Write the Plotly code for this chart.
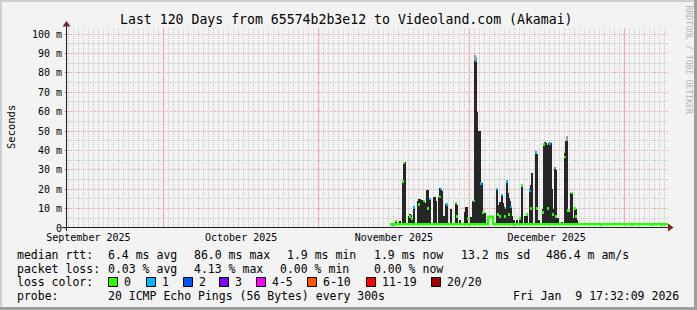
import plotly.graph_objects as go
import pandas as pd

# ---------------- data ----------------
T_START = "2025-09-11 17:32:09"
T_END = "2026-01-09 17:32:09"
DAY0 = pd.Timestamp("2025-11-01 00:00:00")   # day offsets below are counted from here
month_starts = ["2025-10-01", "2025-11-01", "2025-12-01", "2026-01-01"]

# smoke (max rtt, ms) of each spike column, days after 2025-11-01
spike_day = [15.42, 16.22, 16.82, 17.02, 17.22, 18.02, 18.22, 18.42, 18.62, 19.02,
             19.82, 20.02, 20.22, 20.42, 20.82, 21.02, 21.22, 21.62, 21.82, 22.02,
             22.22, 23.01, 23.21, 23.41, 24.01, 24.21, 24.41, 24.61, 25.01, 25.41,
             25.61, 26.41, 27.41, 27.61, 28.21, 29.20, 29.40, 29.60, 30.40, 30.80,
             31.00, 31.20, 31.40, 31.60, 31.80, 32.00, 32.20, 32.40, 32.60, 32.80,
             33.20, 35.59, 35.79, 36.19, 36.39, 36.59, 36.79, 36.99, 37.19, 37.59,
             37.79, 37.99, 38.19, 38.39, 38.59, 38.99, 39.59, 40.19, 40.59, 41.19,
             41.59, 42.19, 42.39, 42.59, 43.39, 43.59, 43.99, 44.79, 44.99, 45.19,
             45.39, 45.59, 45.79, 45.99, 46.18, 46.38, 46.58, 46.78, 47.18, 47.38,
             47.78, 48.58, 49.18, 49.38, 49.58, 49.78, 49.98, 50.38, 50.58, 50.78,
             51.18, 51.38, 51.58]
spike_max = [4.0, 3.5, 24.0, 34.0, 34.0, 6.0, 7.0, 6.5, 5.5, 10.5,
             14.0, 15.0, 15.0, 14.5, 14.4, 14.4, 13.0, 19.6, 19.6, 15.0,
             15.0, 15.8, 15.8, 14.0, 16.0, 20.4, 20.4, 19.0, 6.0, 12.4,
             12.4, 9.8, 13.0, 12.0, 4.0, 8.0, 11.0, 11.0, 5.5, 14.0,
             14.4, 86.0, 86.0, 60.0, 50.0, 50.0, 50.0, 23.0, 23.0, 8.0,
             7.7, 20.4, 12.0, 13.6, 12.0, 17.5, 13.0, 11.0, 10.0, 24.7,
             18.0, 15.3, 14.0, 10.8, 6.0, 4.0, 4.0, 5.0, 22.7, 6.0,
             7.0, 20.0, 22.0, 28.2, 39.3, 38.0, 4.0, 10.0, 43.6, 44.4,
             43.6, 43.0, 42.0, 43.6, 44.0, 43.6, 20.0, 10.0, 31.6, 30.0,
             5.0, 3.0, 38.5, 45.0, 45.0, 10.0, 8.0, 18.0, 18.7, 5.0,
             10.0, 10.0, 4.0]
SMOKE_FLOOR = 1.5

# lighter outer smoke on the two tallest spikes
haze_day = [31.20, 31.40, 49.58]
haze_low = [86.0, 86.0, 45.0]
haze_high = [89.0, 88.0, 47.5]

# median rtt (ms) baseline, step line
base_day = [14.22, 33.79, 34.79, 69.75]
base_ms = [1.9, 5.8, 1.9, 1.9]

# median dashes: day, ms, lost pings (0 or 1)
med_day = [15.42, 16.82, 17.02, 18.22, 18.62, 20.02, 21.02, 21.82, 24.21, 27.41,
           27.61, 29.80, 31.00, 32.80, 35.79, 36.19, 37.19, 37.99, 40.19, 40.59,
           41.59, 42.39, 43.59, 44.79, 44.99, 45.79, 46.78, 47.38, 49.18, 49.78,
           50.58, 51.18, 51.38,
           14.62, 15.02, 19.02, 22.22, 24.41, 25.61, 31.40, 32.40, 35.59, 36.59,
           37.59, 38.39, 38.99, 42.19, 43.39, 46.18, 47.18, 56.35, 62.54, 66.53, 68.53]
med_ms = [3.5, 24.0, 33.5, 6.0, 5.0, 12.0, 14.0, 10.0, 16.0, 13.0,
          6.0, 5.0, 14.0, 8.0, 7.0, 6.0, 6.0, 7.0, 5.0, 22.0,
          7.0, 10.0, 10.0, 8.0, 43.0, 10.0, 7.0, 6.0, 36.6, 9.0,
          18.0, 10.0, 6.0,
          1.9, 1.9, 10.5, 15.0, 20.0, 12.0, 86.0, 23.0, 20.0, 17.0,
          24.0, 10.8, 1.9, 19.0, 39.0, 43.6, 31.0, 1.9, 1.9, 1.9, 1.9]
med_loss = [0] * 33 + [1] * 21

loss_labels = ["0", "1", "2", "3", "4-5", "6-10", "11-19", "20/20"]
loss_colors = ["#26ff00", "#00b8ff", "#0059ff", "#7e00ff", "#ff00ff", "#ff5500", "#ff0000", "#a10000"]

y_tickvals = [0, 10, 20, 30, 40, 50, 60, 70, 80, 90, 100]
y_ticktext = ["0", "10 m", "20 m", "30 m", "40 m", "50 m", "60 m", "70 m", "80 m", "90 m", "100 m"]
Y_MAX = 103.1

title = "Last 120 Days from 65574b2b3e12 to Videoland.com (Akamai)"
stats_rtt = ["median rtt:", "6.4 ms avg", "86.0 ms max", "1.9 ms min", "1.9 ms now", "13.2 ms sd", "486.4 m am/s"]
stats_loss = ["packet loss:", "0.03 % avg", "4.13 % max", "0.00 % min", "0.00 % now"]
probe_text = ["probe:", "20 ICMP Echo Pings (56 Bytes) every 300s"]
stamp = "Fri Jan  9 17:32:09 2026"

# ---------------- geometry ----------------
W, H = 697, 310
ML, MR, MT, MB = 67, 29, 28, 82
PW, PH = W - ML - MR, H - MT - MB


def px(x):
    return (x - ML) / PW


def py(y):
    return (H - MB - y) / PH


def when(days):
    return [DAY0 + pd.Timedelta(days=d) for d in days]


COL = 0.2 * 86400000  # one pixel column in ms
BAR_W = 0.75 * COL
MONO = "DejaVu Sans Mono"
BG = "#f3f3f3"
grid_minor = "#c8c8c8"
grid_major = "#eea3a3"

fig = go.Figure()

# smoke
fig.add_trace(go.Bar(x=when(spike_day), y=[m - SMOKE_FLOOR for m in spike_max], base=SMOKE_FLOOR,
                     width=BAR_W, marker=dict(color="#262626", line=dict(width=0)), hoverinfo="skip"))
fig.add_trace(go.Bar(x=when(haze_day), y=[h - l for h, l in zip(haze_high, haze_low)], base=haze_low,
                     width=BAR_W, marker=dict(color="#9a9a9a", line=dict(width=0)), hoverinfo="skip"))
# median baseline
fig.add_trace(go.Scatter(x=when(base_day), y=base_ms, mode="lines", line=dict(color=loss_colors[0], width=2.4, shape="hv"),
                         hoverinfo="skip"))
# median dashes coloured by loss
for lv in sorted(set(med_loss)):
    d = [a for a, l in zip(med_day, med_loss) if l == lv]
    m = [a for a, l in zip(med_ms, med_loss) if l == lv]
    fig.add_trace(go.Bar(x=when(d), y=[1.3] * len(m), base=[v - 0.65 for v in m], width=COL,
                         marker=dict(color=loss_colors[lv], line=dict(width=0)), hoverinfo="skip"))

shapes = []
# month-start major grid, drawn above the fine grid
for ms in month_starts:
    shapes.append(dict(type="line", xref="x", yref="paper", x0=ms, x1=ms, y0=0, y1=1, layer="between",
                       line=dict(color=grid_major, width=1, dash="1px,1px")))
# frame
shapes += [
    dict(type="rect", xref="paper", yref="paper", x0=px(0), x1=px(W), y0=py(0), y1=py(2), fillcolor="#cfcfcf", line_width=0),
    dict(type="rect", xref="paper", yref="paper", x0=px(0), x1=px(2), y0=py(0), y1=py(H), fillcolor="#cfcfcf", line_width=0),
    dict(type="rect", xref="paper", yref="paper", x0=px(0), x1=px(W), y0=py(H - 3), y1=py(H), fillcolor="#9e9e9e", line_width=0),
    dict(type="rect", xref="paper", yref="paper", x0=px(W - 3), x1=px(W), y0=py(0), y1=py(H), fillcolor="#9e9e9e", line_width=0),
]
# axes
shapes += [
    dict(type="line", xref="paper", yref="paper", x0=px(62), x1=px(668), y0=py(227.5), y1=py(227.5), line=dict(color="#1f1f1f", width=1)),
    dict(type="line", xref="paper", yref="paper", x0=px(66.5), x1=px(66.5), y0=py(231), y1=py(25), line=dict(color="#1f1f1f", width=1)),
    dict(type="path", xref="paper", yref="paper",
         path=f"M{px(673.5)},{py(227.5)} L{px(668)},{py(223.5)} L{px(668)},{py(231.5)} Z",
         fillcolor="#801f1f", line_width=0),
    dict(type="path", xref="paper", yref="paper",
         path=f"M{px(66.5)},{py(21)} L{px(62.5)},{py(26.5)} L{px(70.5)},{py(26.5)} Z",
         fillcolor="#801f1f", line_width=0),
]

ann = []


def text(x, y, s, size=11.5, anchor="left", color="#000000", angle=0):
    ann.append(dict(xref="paper", yref="paper", x=px(x), y=py(y), text=s.replace(" ", "\u00a0"), showarrow=False,
                    xanchor=anchor, yanchor="middle", textangle=angle,
                    font=dict(family=MONO, size=size, color=color), borderpad=0))


text(346.4, 19, title, size=13.2, anchor="center")
text(11, 127, "Seconds", size=10.5, anchor="center", angle=-90)
text(688.5, 60, "RRDTOOL / TOBI OETIKER", size=8.2, anchor="center", color="#b4b4b4", angle=90)

rtt_x = [16, 107, 193, 286, 372.7, 459.5, 545]
for x, s in zip(rtt_x, stats_rtt):
    text(x, 255, s)
loss_x = [16, 107, 193, 278.5, 372.7]
for x, s in zip(loss_x, stats_loss):
    text(x, 268.5, s)
text(16, 282, "loss color:")
sq_x = [108, 146, 183, 219, 256, 307, 366, 431]
for x, lab, c in zip(sq_x, loss_labels, loss_colors):
    shapes.append(dict(type="rect", xref="paper", yref="paper", x0=px(x + 0.5), x1=px(x + 9.5), y0=py(277.5), y1=py(286.5),
                       fillcolor=c, line=dict(color="#000000", width=1)))
    text(x + 15, 282, lab)
text(16, 296, probe_text[0])
text(107, 296, probe_text[1])
text(680, 296, stamp, anchor="right")

fig.update_layout(
    width=W, height=H, autosize=False,
    margin=dict(l=ML, r=MR, t=MT, b=MB, pad=0),
    paper_bgcolor=BG, plot_bgcolor=BG,
    showlegend=False, barmode="overlay", bargap=0,
    shapes=shapes, annotations=ann,
    xaxis=dict(type="date", range=[T_START, T_END], tick0="2025-09-01", dtick="M1",
               ticklabelmode="period", tickformat="%B %Y", ticks="", ticklabelstandoff=2,
               showgrid=True, gridcolor=grid_major, griddash="1px,1px", gridwidth=1,
               minor=dict(dtick=86400000, tick0="2025-09-01", showgrid=True, gridcolor=grid_minor,
                          griddash="1px,1px", gridwidth=1),
               zeroline=False, showline=False, fixedrange=True,
               tickfont=dict(family=MONO, size=10, color="#000000")),
    yaxis=dict(range=[0, Y_MAX], tickmode="array", tickvals=y_tickvals, ticktext=y_ticktext,
               showgrid=True, gridcolor=grid_major, griddash="1px,1px", gridwidth=1,
               minor=dict(tickmode="linear", tick0=0, dtick=5, showgrid=True, gridcolor=grid_minor,
                          griddash="1px,1px", gridwidth=1),
               ticks="outside", ticklen=2, tickcolor=grid_major,
               zeroline=False, showline=False, fixedrange=True,
               tickfont=dict(family=MONO, size=10, color="#000000")),
)

fig.write_html("out.html")
